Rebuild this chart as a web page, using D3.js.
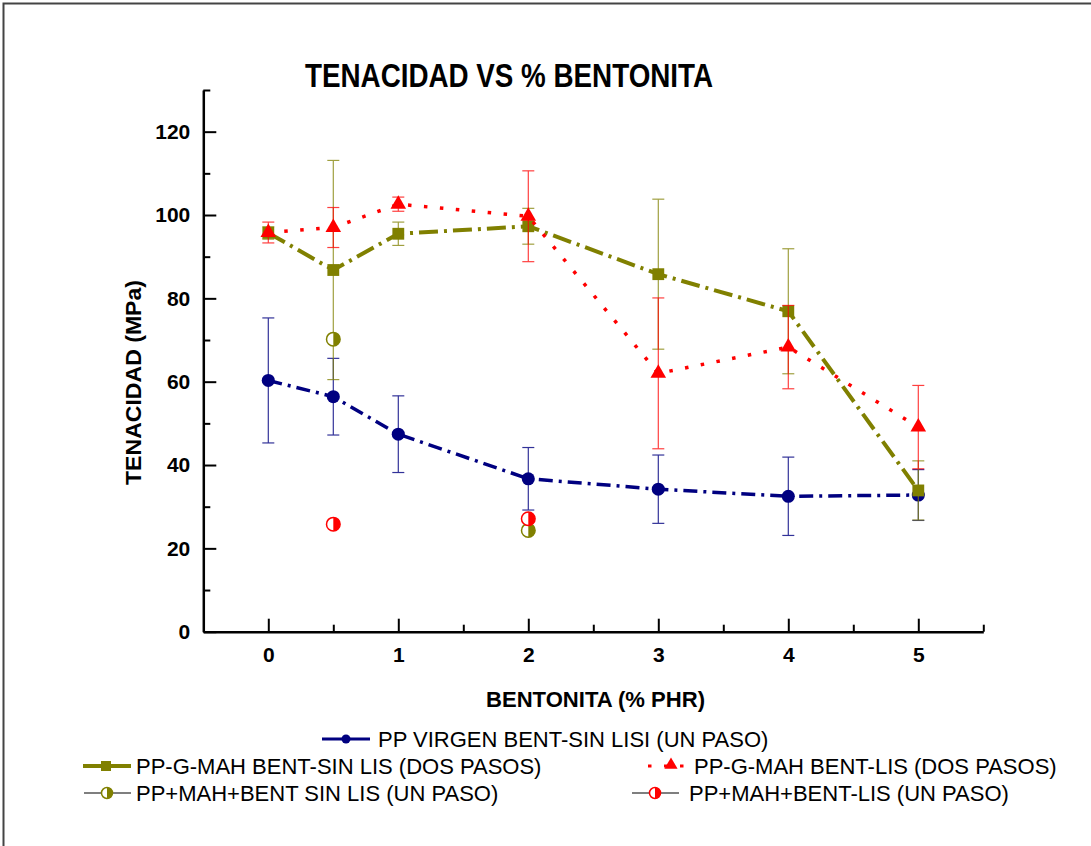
<!DOCTYPE html>
<html><head><meta charset="utf-8">
<script src="https://cdn.jsdelivr.net/npm/d3@7"></script>
<style>body{margin:0;background:#fff}svg{display:block}text{font-family:"Liberation Sans",Arial,sans-serif}</style>
</head><body>
<svg id="c" width="1091" height="846"></svg>
<script>
const xVals = [0, 0.5, 1, 2, 3, 4, 5];
const virgenMean = [60.3, 56.4, 47.4, 36.7, 34.2, 32.5, 32.8];
const virgenErr  = [15.0, 9.2, 9.2, 7.5, 8.2, 9.4, 6.1];
const gmahSinMean = [95.7, 86.8, 95.5, 97.3, 85.8, 76.9, 33.9];
const gmahSinErr  = [1.5, 26.3, 2.8, 4.3, 18.0, 15.0, 7.1];
const gmahLisMean = [95.8, 97.0, 102.6, 99.7, 62.0, 68.3, 49.1];
const gmahLisErr  = [2.5, 4.8, 1.7, 10.9, 18.1, 10.0, 10.0];
const mahSinX = [0.5, 2];
const mahSinVals = [70.2, 24.3];
const mahLisX = [0.5, 2];
const mahLisVals = [25.8, 27.1];
const xMajorTicks = [0, 1, 2, 3, 4, 5];
const xMinorTicks = [0.5, 1.5, 2.5, 3.5, 4.5, 5.5];
const yMajorTicks = [0, 20, 40, 60, 80, 100, 120];
const yMinorTicks = [10, 30, 50, 70, 90, 110, 130];
const titleText = "TENACIDAD VS % BENTONITA";
const xLabel = "BENTONITA (% PHR)";
const yLabel = "TENACIDAD (MPa)";
const legendNames = ["PP VIRGEN BENT-SIN LISI (UN PASO)", "PP-G-MAH BENT-SIN LIS (DOS PASOS)", "PP-G-MAH BENT-LIS (DOS PASOS)", "PP+MAH+BENT SIN LIS (UN PASO)", "PP+MAH+BENT-LIS (UN PASO)"];

const NAVY = "#000080", OLIVE = "#808000", RED = "#ff0000";
const svg = d3.select("#c");
const x = d3.scaleLinear().domain([-0.5, 5.5]).range([203.3, 983.3]);
const y = d3.scaleLinear().domain([0, 130]).range([631.7, 90]);

// frame
svg.append("rect").attr("x", 3.5).attr("y", 3.5).attr("width", 1200).attr("height", 1000)
  .attr("fill", "none").attr("stroke", "#444").attr("stroke-width", 2);

// title
svg.append("text").attr("x", 509).attr("y", 86.5).attr("text-anchor", "middle")
  .attr("font-size", 34).attr("font-weight", "bold")
  .attr("textLength", 408).attr("lengthAdjust", "spacingAndGlyphs").text(titleText);

// axes
function styleAxis(g){
  g.selectAll(".domain").attr("stroke", "#000").attr("stroke-width", 2.5);
  g.selectAll(".tick line").attr("stroke", "#000").attr("stroke-width", 2);
  g.selectAll(".tick text").attr("font-size", 21).attr("font-weight", "bold").attr("fill", "#000")
   .style("font-family", '"Liberation Sans",Arial,sans-serif');
}
const gx = svg.append("g").attr("transform", `translate(0,${y(0)})`)
  .call(d3.axisBottom(x).tickValues(xMajorTicks).tickSizeInner(-13).tickSizeOuter(0).tickPadding(15).tickFormat(d3.format("d")));
styleAxis(gx);
const gx2 = svg.append("g").attr("transform", `translate(0,${y(0)})`)
  .call(d3.axisBottom(x).tickValues(xMinorTicks).tickSizeInner(-7).tickSizeOuter(0).tickFormat(""));
styleAxis(gx2); gx2.select(".domain").remove();
const gy = svg.append("g").attr("transform", `translate(${x(-0.5)},0)`)
  .call(d3.axisLeft(y).tickValues(yMajorTicks).tickSizeInner(-13).tickSizeOuter(0).tickPadding(13).tickFormat(d3.format("d")));
styleAxis(gy);
const gy2 = svg.append("g").attr("transform", `translate(${x(-0.5)},0)`)
  .call(d3.axisLeft(y).tickValues(yMinorTicks).tickSizeInner(-7).tickSizeOuter(0).tickFormat(""));
styleAxis(gy2); gy2.select(".domain").remove();

// axis labels
svg.append("text").attr("x", 595.5).attr("y", 706.5).attr("text-anchor", "middle")
  .attr("font-size", 22).attr("font-weight", "bold").attr("textLength", 219).attr("lengthAdjust", "spacingAndGlyphs").text(xLabel);
svg.append("text").attr("transform", "translate(141,382.5) rotate(-90)").attr("text-anchor", "middle")
  .attr("font-size", 22).attr("font-weight", "bold").attr("textLength", 205).attr("lengthAdjust", "spacingAndGlyphs").text(yLabel);

// helpers
function errorBars(xs, means, errs, color, op){
  const g = svg.append("g").attr("stroke", color).attr("stroke-width", 1.2).attr("opacity", op);
  xs.forEach((xv, i) => {
    const px = x(xv), top = y(means[i] + errs[i]), bot = y(means[i] - errs[i]);
    g.append("line").attr("x1", px).attr("x2", px).attr("y1", top).attr("y2", bot);
    g.append("line").attr("x1", px - 6).attr("x2", px + 6).attr("y1", top).attr("y2", top);
    g.append("line").attr("x1", px - 6).attr("x2", px + 6).attr("y1", bot).attr("y2", bot);
  });
}
function seriesLine(xs, vals, color, width, dash){
  const line = d3.line().x((d, i) => x(xs[i])).y(d => y(d));
  svg.append("path").datum(vals).attr("d", line).attr("fill", "none").attr("stroke", color)
    .attr("stroke-width", width).attr("stroke-dasharray", dash).attr("stroke-linecap", "butt");
}
function symbols(xs, vals, type, size, color){
  svg.append("g").selectAll("path").data(vals).join("path")
    .attr("transform", (d, i) => `translate(${x(xs[i])},${y(d)})`)
    .attr("d", d3.symbol().type(type).size(size)).attr("fill", color);
}
function halfCircle(g, cx, cy, r, color){
  g.append("circle").attr("cx", cx).attr("cy", cy).attr("r", r).attr("fill", "#fff").attr("stroke", color).attr("stroke-width", 1.5);
  g.append("path").attr("d", `M${cx},${cy - r} A${r},${r} 0 0 1 ${cx},${cy + r} Z`).attr("fill", color);
}

// series 1: navy
errorBars(xVals, virgenMean, virgenErr, NAVY, 0.8);
seriesLine(xVals, virgenMean, NAVY, 3.5, "14,6,3,6");
symbols(xVals, virgenMean, d3.symbolCircle, 135, NAVY);
// series 2: olive
errorBars(xVals, gmahSinMean, gmahSinErr, OLIVE, 0.75);
seriesLine(xVals, gmahSinMean, OLIVE, 4, "19,6,3,6");
symbols(xVals, gmahSinMean, d3.symbolSquare, 140, OLIVE);
// series 3: red
errorBars(xVals, gmahLisMean, gmahLisErr, RED, 0.75);
seriesLine(xVals, gmahLisMean, RED, 3.5, "3.5,12.5");
symbols(xVals, gmahLisMean, d3.symbolTriangle, 105, RED);
// series 4,5: half circles
const hc = svg.append("g");
mahSinX.forEach((xv, i) => halfCircle(hc, x(xv), y(mahSinVals[i]), 6.8, OLIVE));
mahLisX.forEach((xv, i) => halfCircle(hc, x(xv), y(mahLisVals[i]), 6.8, RED));

// legend
const lg = svg.append("g");
function legText(tx, ty, s){ lg.append("text").attr("x", tx).attr("y", ty).attr("font-size", 22).attr("fill", "#000").text(s); }
// row 1
lg.append("line").attr("x1", 322).attr("x2", 370).attr("y1", 739).attr("y2", 739).attr("stroke", NAVY).attr("stroke-width", 3);
lg.append("circle").attr("cx", 346).attr("cy", 739).attr("r", 4.5).attr("fill", NAVY);
legText(378, 747, legendNames[0]);
// row 2 left
lg.append("line").attr("x1", 83).attr("x2", 131).attr("y1", 766).attr("y2", 766).attr("stroke", OLIVE).attr("stroke-width", 4);
lg.append("rect").attr("x", 101).attr("y", 761).attr("width", 10).attr("height", 10).attr("fill", OLIVE);
legText(136, 774, legendNames[1]);
// row 2 right
lg.append("line").attr("x1", 648).attr("x2", 686).attr("y1", 766).attr("y2", 766).attr("stroke", RED).attr("stroke-width", 3).attr("stroke-dasharray", "3.5,12.5");
lg.append("path").attr("transform", "translate(671,765)").attr("d", d3.symbol().type(d3.symbolTriangle).size(75)).attr("fill", RED);
legText(694, 774, legendNames[2]);
// row 3 left
lg.append("line").attr("x1", 84).attr("x2", 131).attr("y1", 793).attr("y2", 793).attr("stroke", "#555").attr("stroke-width", 1.5);
halfCircle(lg, 107, 793, 5.5, OLIVE);
legText(136, 801, legendNames[3]);
// row 3 right
lg.append("line").attr("x1", 632).attr("x2", 679).attr("y1", 793).attr("y2", 793).attr("stroke", "#555").attr("stroke-width", 1.5);
halfCircle(lg, 655, 793, 5.5, RED);
legText(689, 801, legendNames[4]);
</script>
</body></html>
